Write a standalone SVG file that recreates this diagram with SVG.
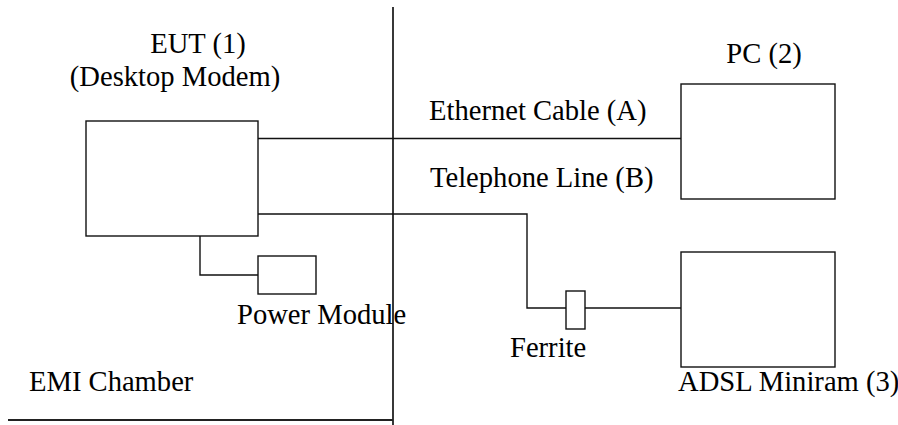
<svg xmlns="http://www.w3.org/2000/svg" width="898" height="425" viewBox="0 0 898 425">
<style>
.box{fill:#fff;stroke:#111;stroke-width:1.4}
.ln{fill:none;stroke:#111;stroke-width:1.4}
.wall{fill:none;stroke:#222;stroke-width:1.8}
.t{font-family:'Liberation Serif','DejaVu Serif',serif;font-size:28.6px;fill:#000}
</style>
<rect width="898" height="425" fill="#fff"/>
<g id="chamber">
<line class="wall" x1="393" y1="7" x2="393" y2="425"/>
<line class="wall" x1="8" y1="420" x2="393" y2="420"/>
<text class="t" x="29" y="391">EMI Chamber</text>
</g>
<g id="connectors">
<polyline class="ln" points="258,138.5 681,138.5"/>
<polyline class="ln" points="258,214 527,214 527,308 566,308"/>
<polyline class="ln" points="585,308 681,308"/>
<polyline class="ln" points="200,236 200,275 258,275"/>
<text class="t" x="429" y="120">Ethernet Cable (A)</text>
<text class="t" x="430" y="187">Telephone Line (B)</text>
</g>
<g id="eut">
<rect class="box" x="86" y="121" width="172" height="115"/>
<text class="t" x="198" y="53" text-anchor="middle">EUT (1)</text>
<text class="t" x="175" y="86" text-anchor="middle">(Desktop Modem)</text>
</g>
<g id="pc">
<rect class="box" x="681" y="84" width="154" height="115"/>
<text class="t" x="764" y="63" text-anchor="middle">PC (2)</text>
</g>
<g id="power">
<rect class="box" x="258" y="256" width="58" height="38"/>
<text class="t" x="237" y="324">Power Module</text>
</g>
<g id="ferrite">
<rect class="box" x="566" y="291" width="19" height="38"/>
<text class="t" x="510" y="357">Ferrite</text>
</g>
<g id="adsl">
<rect class="box" x="681" y="252" width="154" height="115"/>
<text class="t" x="678" y="391">ADSL Miniram (3)</text>
</g>
</svg>
